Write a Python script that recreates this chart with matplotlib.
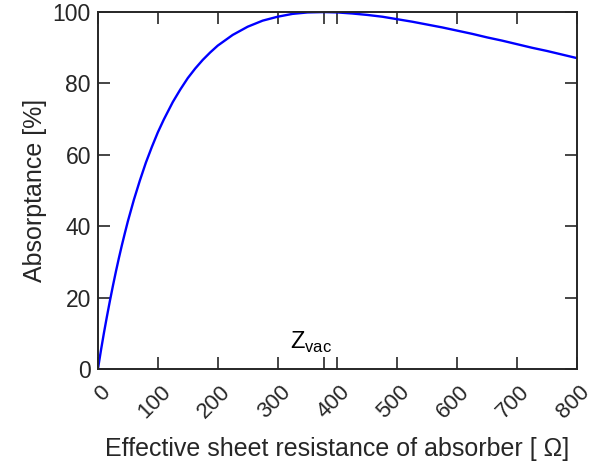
import matplotlib
matplotlib.use("Agg")
import matplotlib.pyplot as plt
from matplotlib.transforms import ScaledTranslation

plt.rcParams['font.family'] = ['Liberation Sans', 'DejaVu Sans']

# Values
resistance = [0, 5, 10, 15, 20, 25, 30, 35, 40, 45, 50, 55, 60, 70, 80, 90, 100, 110,
              125, 137.5, 150, 162.5, 175, 187.5, 200, 225, 250, 275, 300, 325,
              350, 377, 400, 425, 450, 475, 500, 525, 550, 575, 600, 625, 650,
              675, 700, 725, 750, 775, 800]
absorptance = [0, 5.2, 10.1, 14.7, 19.1, 23.3, 27.3, 31.1, 34.7, 38.1, 41.4, 44.4,
               47.4, 52.8, 57.8, 62.2, 66.3, 69.9, 74.8, 78.3, 81.5, 84.2, 86.6,
               88.7, 90.6, 93.6, 95.9, 97.6, 98.7, 99.5, 99.9, 100, 99.9, 99.6,
               99.2, 98.7, 98.0, 97.3, 96.5, 95.7, 94.8, 93.9, 92.9, 92.0, 91.0,
               90.0, 89.1, 88.1, 87.1]
x_ticks = [0, 100, 200, 300, 400, 500, 600, 700, 800]
y_ticks = [0, 20, 40, 60, 80, 100]
z_vac = 377

dark = '#262626'
fig = plt.figure(figsize=(5.9, 4.65), dpi=100)
ax = fig.add_axes([0.166, 0.2065, 0.812, 0.7675])
ax.plot(resistance, absorptance, color='#0000ff', lw=1.7)
ax.set_xlim(0, 800)
ax.set_ylim(0, 100)
ax.set_xticks(x_ticks)
ax.set_xticks([z_vac], minor=True)
ax.set_yticks(y_ticks)
ax.set_xticklabels([str(t) for t in x_ticks], rotation=45, ha='right', va='top',
                   rotation_mode='anchor')
ax.tick_params(which='both', direction='in', top=True, right=True, length=8.5,
               width=1.2, colors=dark, labelsize=16.5, pad=5)
ax.tick_params(axis='x', which='major', pad=9, labelsize=16)
shift = ScaledTranslation(0.02, 0, fig.dpi_scale_trans)
for lbl in ax.get_xticklabels():
    lbl.set_transform(lbl.get_transform() + shift)
for s in ax.spines.values():
    s.set_linewidth(1.4)
    s.set_color(dark)
ax.text(355, 4, r'Z$_{\mathregular{vac}}$', ha='center', va='bottom', fontsize=17, color='black')
ax.set_xlabel('Effective sheet resistance of absorber [ Ω]', fontsize=18, color=dark, labelpad=10)
ax.set_ylabel('Absorptance [%]', fontsize=18, color=dark, labelpad=4)
fig.savefig('out.png', dpi=100)
